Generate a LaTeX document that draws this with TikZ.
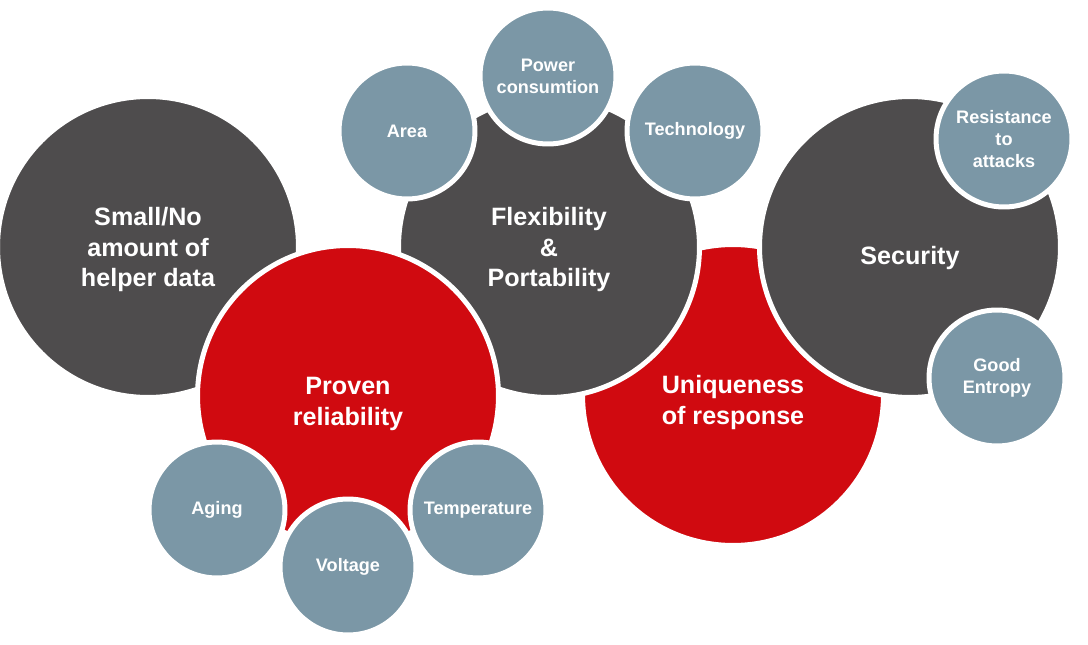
\documentclass[tikz,border=0pt]{standalone}
\usepackage{fontspec}
\setmainfont{Liberation Sans}
\usepackage{xcolor}
\usetikzlibrary{positioning, calc}

\definecolor{circdark}{RGB}{78,76,77}
\definecolor{circred}{RGB}{208,10,16}
\definecolor{circblue}{RGB}{123,151,166}

\begin{document}
\begin{tikzpicture}[
    x=0.02cm, y=-0.02cm,
    bigc/.style={circle, draw=white, line width=0.1cm, inner sep=0pt,
                 minimum size=6.02cm, align=center, text=white, text depth=0pt,
                 font=\fontsize{14.3}{17.5}\selectfont\bfseries},
    smallc/.style={circle, draw=white, line width=0.1cm, inner sep=0pt,
                   minimum size=2.72cm, align=center, text=white, fill=circblue,
                   font=\fontsize{10.3}{12.6}\selectfont\bfseries},
    bigtxt/.style={text=white, align=center, text depth=0pt,
                   font=\fontsize{14.3}{17.5}\selectfont\bfseries}
]
\useasboundingbox (0,0) rectangle (1088,645);
% main circles, back to front
\node[bigc, fill=circred]  (unique) at (733,395) {};
\node[bigtxt] (uniquetxt) at ($(unique)+(0,5)$) {Uniqueness\\of response};
\node[bigc, fill=circdark] (helper) at (148,247) {Small/No\\amount of\\helper data};
\node[bigc, fill=circdark] (flex)   at (549,247) {Flexibility\\\&\\Portability};
\node[bigc, fill=circdark] (secur)  at (910,247) {};
\node[bigtxt] (securtxt) at ($(secur)+(0,8)$) {Security};
\node[bigc, fill=circred]  (proven) at (348,396) {};
\node[bigtxt] (proventxt) at ($(proven)+(0,5)$) {Proven\\reliability};
% satellites
\node[smallc] (area)    at (407,131) {Area};
\node[smallc] (power)   at (548,76)  {Power\\consumtion};
\node[smallc] (techno)  at (695,131) {Technology};
\node[smallc] (resist)  at (1004,139) {Resistance\\to\\attacks};
\node[smallc] (entropy) at (997,378) {Good\\Entropy};
\node[smallc] (aging)   at (217,510) {Aging};
\node[smallc] (temp)    at (478,510) {Temperature};
\node[smallc] (volt)    at (348,567) {Voltage};
\end{tikzpicture}
\end{document}
